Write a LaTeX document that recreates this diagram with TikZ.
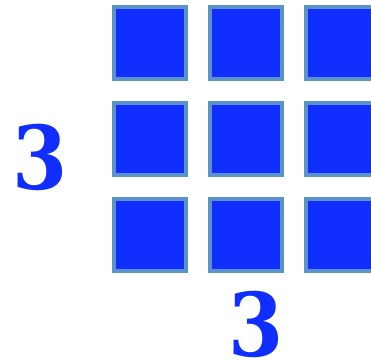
\documentclass[tikz,border=0pt]{standalone}
\usepackage{fontspec}
\setmainfont{DejaVu Serif Condensed}
\usepackage{xcolor}
\usepackage{tikz}
\definecolor{tileblue}{HTML}{0F2EFF}
\definecolor{tileedge}{HTML}{5B93C9}
\tikzset{
  tile/.style={draw=tileedge,fill=tileblue,line width=4pt,minimum size=72pt,inner sep=0pt},
  count/.style={text=tileblue,font=\fontsize{88}{88}\selectfont\bfseries,inner sep=0pt,anchor=base}
}
\begin{document}
\begin{tikzpicture}[x=1pt,y=-1pt]
\clip(0,0)rectangle(371,361);
\useasboundingbox(0,0)rectangle(371,361);
\foreach \r/\y in {1/43,2/139,3/235}
  \foreach \c/\x in {1/150,2/246,3/342}
    \node[tile](t\r\c)at(\x,\y){};
\node[count](rows)at(40,189){3};
\node[count](cols)at(256.5,356){3};
\end{tikzpicture}
\end{document}
